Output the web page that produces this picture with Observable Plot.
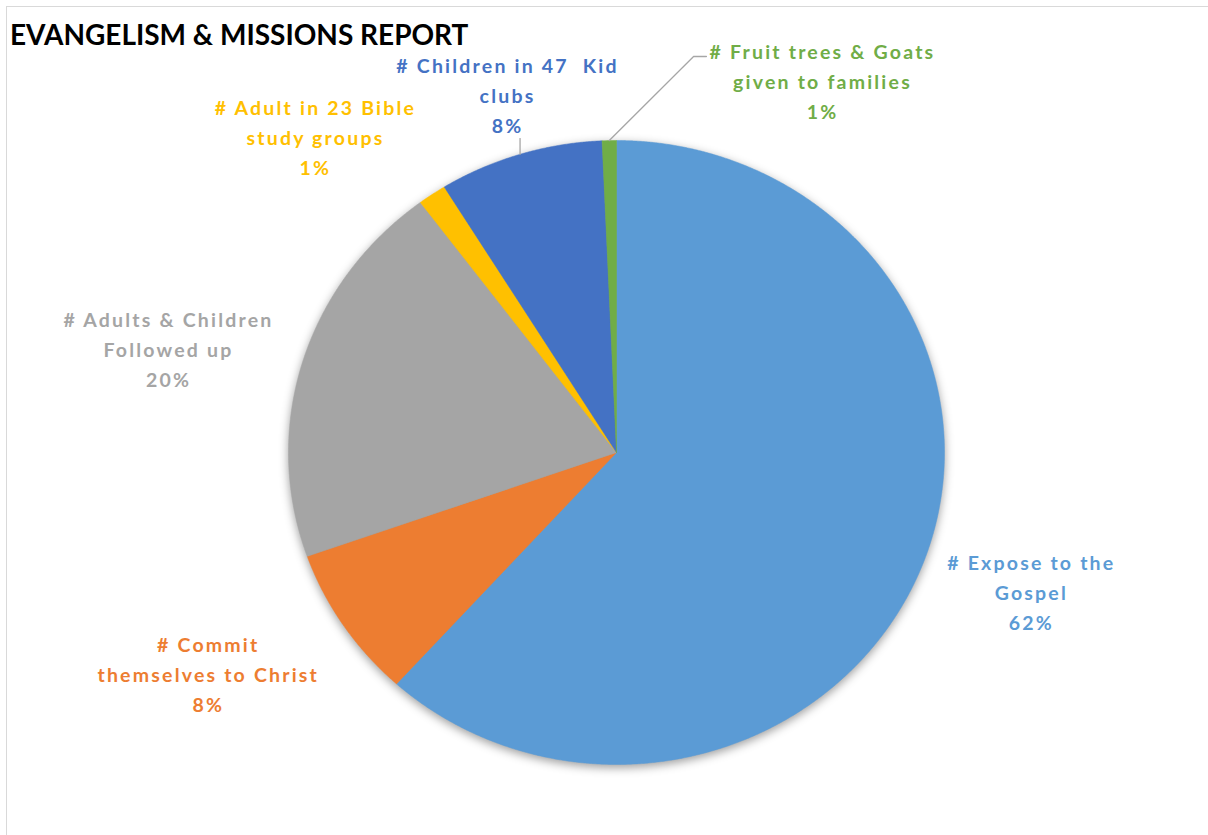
<!DOCTYPE html>
<html><head><meta charset="utf-8">
<script src="https://cdn.jsdelivr.net/npm/d3@7"></script>
<script src="https://cdn.jsdelivr.net/npm/@observablehq/plot@0.6"></script>
<style>
html,body{margin:0;padding:0;background:#fff;overflow:hidden}
#wrap{position:relative;width:1208px;height:835px;overflow:hidden}
#frame{position:absolute;left:6px;top:6px;width:1300px;height:900px;border:1.5px solid #d9d9d9;box-sizing:border-box;pointer-events:none}
#title{position:absolute;left:10px;top:20px;font-family:Lato;font-weight:700;font-size:28px;line-height:28px;color:#000;white-space:nowrap}
#chart svg{display:block}
</style></head><body>
<div id="wrap"><div id="chart"></div><div id="frame"></div><div id="title">EVANGELISM &amp; MISSIONS REPORT</div></div>
<script>
// ---- data ----
const categories = [
  "# Expose to the Gospel",
  "# Commit themselves to Christ",
  "# Adults & Children Followed up",
  "# Adult in 23 Bible study groups",
  "# Children in 47 Kid clubs",
  "# Fruit trees & Goats given to families"
];
const values = [61.7, 7.9, 20.2, 1.4, 8.1, 0.7];
const labelText = [
  "# Expose to the\nGospel",
  "# Commit\nthemselves to Christ",
  "# Adults & Children\nFollowed up",
  "# Adult in 23 Bible\nstudy groups",
  "# Children in 47\u00a0 Kid\nclubs",
  "# Fruit trees & Goats\ngiven to families"
];
const colors = ["#5b9bd5", "#ed7d31", "#a5a5a5", "#ffc000", "#4472c4", "#70ad47"];

// ---- label layout (polar: degrees clockwise from top, radius in pie radii) ----
const labelAngle = [109.3, 240.5, 283.9, 317.9, 343.9, 27.7];
const labelRadius = [1.340, 1.430, 1.407, 1.369, 1.198, 1.351];

const total = d3.sum(values);
const rad = d => d * Math.PI / 180;

// slice polygons
const slices = [];
const mids = [];
let acc = 0;
categories.forEach((c, i) => {
  const a0 = acc / total * 2 * Math.PI;
  acc += values[i];
  const a1 = acc / total * 2 * Math.PI;
  mids.push((a0 + a1) / 2);
  slices.push({c, x: 0, y: 0});
  const n = Math.max(4, Math.ceil((a1 - a0) / (Math.PI / 720)));
  for (let k = 0; k <= n; k++) {
    const a = a0 + (a1 - a0) * k / n;
    slices.push({c, x: Math.sin(a), y: Math.cos(a)});
  }
  slices.push({c, x: 0, y: 0});
});

const labels = categories.map((c, i) => ({
  c,
  text: labelText[i] + "\n" + Math.round(values[i] / total * 100) + "%",
  x: labelRadius[i] * Math.sin(rad(labelAngle[i])),
  y: labelRadius[i] * Math.cos(rad(labelAngle[i]))
}));

// leader lines (kid clubs and fruit trees)
const leaders = [];
{
  const i = 4, m = mids[i];
  const rx = Math.sin(m), ry = Math.cos(m);
  leaders.push({id: i, x: rx, y: ry}, {id: i, x: rx, y: labels[i].y - 0.145});
}
{
  const i = 5, m = mids[i];
  leaders.push({id: i, x: Math.sin(m), y: Math.cos(m)});
  leaders.push({id: i, x: labels[i].x - 0.393, y: labels[i].y + 0.073});
  leaders.push({id: i, x: labels[i].x - 0.354, y: labels[i].y + 0.073});
}

const plot = Plot.plot({
  width: 1208,
  height: 835,
  marginLeft: 288, marginRight: 264, marginTop: 140, marginBottom: 71,
  x: {domain: [-1, 1], axis: null},
  y: {domain: [-1, 1], axis: null},
  color: {domain: categories, range: colors},
  style: {background: "transparent", fontFamily: "Lato"},
  marks: [
    Plot.line(slices, {x: "x", y: "y", z: "c", fill: "c", stroke: "c", strokeWidth: 0.5, curve: "linear"}),
    Plot.line(leaders, {x: "x", y: "y", z: "id", stroke: "#a6a6a6", strokeWidth: 1.3}),
    Plot.text(labels, {x: "x", y: "y", text: "text", fill: "c", fontSize: 19.5, fontWeight: 700, lineHeight: 1.54, fontFamily: "Lato"})
  ]
});
document.getElementById("chart").appendChild(plot);
const pieG = plot.querySelector('g[aria-label="line"]');
if (pieG) pieG.style.filter = "drop-shadow(0px 3px 5px rgba(0,0,0,0.38))";
const textG = plot.querySelector('g[aria-label="text"]');
if (textG) textG.style.letterSpacing = "2.2px";
</script>
</body></html>
